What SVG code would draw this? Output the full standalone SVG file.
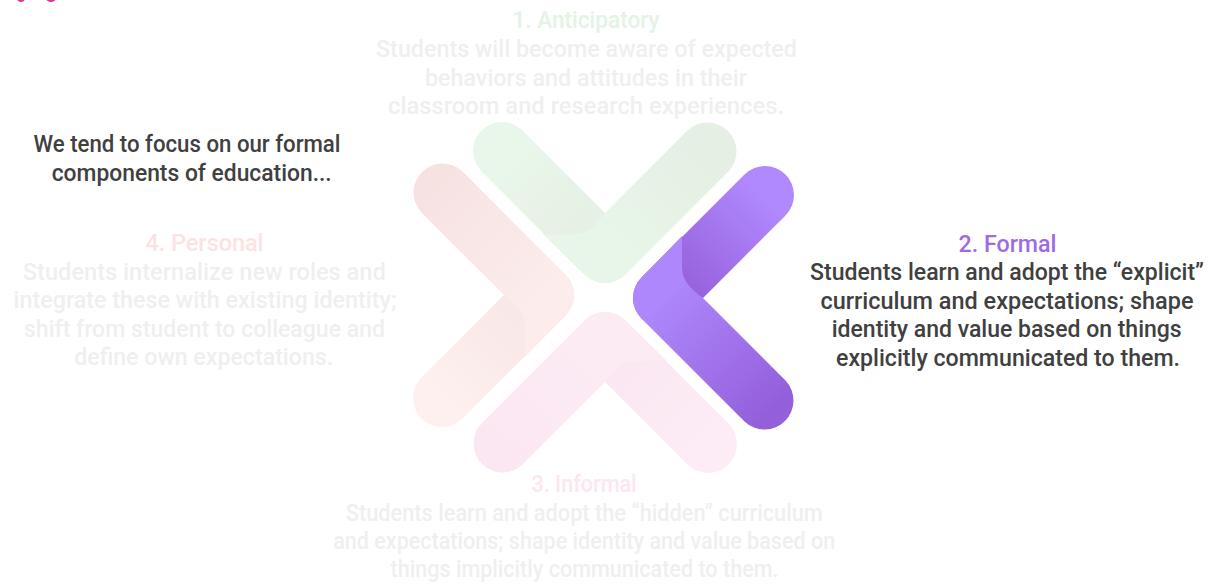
<svg xmlns="http://www.w3.org/2000/svg" width="1215" height="585" viewBox="0 0 1215 585">
<style>
.t{font-family:Roboto,"Liberation Sans",sans-serif;font-size:23px;font-weight:500;text-anchor:middle}
.body{fill:#efefef}
.dark{fill:#404040}
</style>
<defs>
<path id="over" d="M20,-62 L20,-31 C20,-17 29,-9 41,0 L123.5,82.5 A29,29 0 0 1 82.5,123.5 L-20.5,20.5 A29,29 0 0 1 -20.5,-20.5 Z"/>
<linearGradient id="pu" gradientUnits="userSpaceOnUse" x1="103" y1="-103" x2="22" y2="-22"><stop offset="0" stop-color="#b189fe"/><stop offset="1" stop-color="#9764de"/></linearGradient>
<linearGradient id="po" gradientUnits="userSpaceOnUse" x1="0" y1="0" x2="110" y2="110"><stop offset="0" stop-color="#ae87fc"/><stop offset="1" stop-color="#945fdb"/></linearGradient>
<linearGradient id="gu" gradientUnits="userSpaceOnUse" x1="103" y1="-103" x2="22" y2="-22"><stop offset="0" stop-color="#e9f7ea"/><stop offset="1" stop-color="#e6f0e5"/></linearGradient>
<linearGradient id="go" gradientUnits="userSpaceOnUse" x1="0" y1="0" x2="110" y2="110"><stop offset="0" stop-color="#e8f6e9"/><stop offset="1" stop-color="#e5efe4"/></linearGradient>
<linearGradient id="su" gradientUnits="userSpaceOnUse" x1="103" y1="-103" x2="22" y2="-22"><stop offset="0" stop-color="#fdf0ef"/><stop offset="1" stop-color="#f8e8e7"/></linearGradient>
<linearGradient id="so" gradientUnits="userSpaceOnUse" x1="0" y1="0" x2="110" y2="110"><stop offset="0" stop-color="#fcecec"/><stop offset="1" stop-color="#f7e2e2"/></linearGradient>
<linearGradient id="ku" gradientUnits="userSpaceOnUse" x1="103" y1="-103" x2="22" y2="-22"><stop offset="0" stop-color="#fdecf5"/><stop offset="1" stop-color="#fae7f1"/></linearGradient>
<linearGradient id="ko" gradientUnits="userSpaceOnUse" x1="0" y1="0" x2="110" y2="110"><stop offset="0" stop-color="#fdebf4"/><stop offset="1" stop-color="#fae7f2"/></linearGradient>
</defs>
<rect width="1215" height="585" fill="#ffffff"/>
<g id="corner-marks" fill="#e0358c">
<ellipse cx="21" cy="-2" rx="4" ry="4"/>
<ellipse cx="51" cy="-2" rx="5" ry="4"/>
</g>

<g id="stage1-anticipatory">
<g transform="translate(605,254) rotate(-90)">
<line x1="0" y1="0" x2="103" y2="-103" stroke="url(#gu)" stroke-width="58" stroke-linecap="round"/>
<use href="#over" fill="url(#go)"/>
</g>
<text class="t" x="586" y="28" fill="#e4f3e4" textLength="147" lengthAdjust="spacingAndGlyphs">1. Anticipatory</text>
<text class="t body" x="586.5" y="57" textLength="421" lengthAdjust="spacingAndGlyphs">Students will become aware of expected</text>
<text class="t body" x="586" y="85.5" textLength="322" lengthAdjust="spacingAndGlyphs">behaviors and attitudes in their</text>
<text class="t body" x="586" y="114" textLength="396" lengthAdjust="spacingAndGlyphs">classroom and research experiences.</text>
</g>

<g id="stage2-formal">
<g transform="translate(662,298)">
<line x1="0" y1="0" x2="103" y2="-103" stroke="url(#pu)" stroke-width="58" stroke-linecap="round"/>
<use href="#over" fill="url(#po)"/>
</g>
<text class="t" x="1007.5" y="251.5" fill="#9f6ae6" textLength="98" lengthAdjust="spacingAndGlyphs">2. Formal</text>
<text class="t dark" x="1007" y="280" textLength="394" lengthAdjust="spacingAndGlyphs">Students learn and adopt the “explicit”</text>
<text class="t dark" x="1007" y="308.5" textLength="373" lengthAdjust="spacingAndGlyphs">curriculum and expectations; shape</text>
<text class="t dark" x="1006.7" y="337" textLength="350" lengthAdjust="spacingAndGlyphs">identity and value based on things</text>
<text class="t dark" x="1008" y="365.5" textLength="344" lengthAdjust="spacingAndGlyphs">explicitly communicated to them.</text>
</g>

<g id="stage3-informal">
<g transform="translate(605,341) rotate(90)">
<line x1="0" y1="0" x2="103" y2="-103" stroke="url(#ku)" stroke-width="58" stroke-linecap="round"/>
<use href="#over" fill="url(#ko)"/>
</g>
<text class="t" x="584" y="492" fill="#fde6f2" textLength="105" lengthAdjust="spacingAndGlyphs">3. Informal</text>
<text class="t body" x="584.3" y="520.5" textLength="477" lengthAdjust="spacingAndGlyphs">Students learn and adopt the “hidden” curriculum</text>
<text class="t body" x="584.2" y="549" textLength="502" lengthAdjust="spacingAndGlyphs">and expectations; shape identity and value based on</text>
<text class="t body" x="584.5" y="577" textLength="388" lengthAdjust="spacingAndGlyphs">things implicitly communicated to them.</text>
</g>

<g id="stage4-personal">
<g transform="translate(545,295) rotate(180)">
<line x1="0" y1="0" x2="103" y2="-103" stroke="url(#su)" stroke-width="58" stroke-linecap="round"/>
<use href="#over" fill="url(#so)"/>
</g>
<text class="t" x="204.5" y="251" fill="#fbe3e3" textLength="118" lengthAdjust="spacingAndGlyphs">4. Personal</text>
<text class="t body" x="204.3" y="279.5" textLength="363" lengthAdjust="spacingAndGlyphs">Students internalize new roles and</text>
<text class="t body" x="205" y="308" textLength="383" lengthAdjust="spacingAndGlyphs">integrate these with existing identity;</text>
<text class="t body" x="204.5" y="336.5" textLength="361" lengthAdjust="spacingAndGlyphs">shift from student to colleague and</text>
<text class="t body" x="203.7" y="365" textLength="259" lengthAdjust="spacingAndGlyphs">define own expectations.</text>
</g>

<g id="intro-note">
<text class="t dark" x="187" y="152" textLength="307" lengthAdjust="spacingAndGlyphs">We tend to focus on our formal</text>
<text class="t dark" x="191.7" y="180.5" textLength="280" lengthAdjust="spacingAndGlyphs">components of education...</text>
</g>
</svg>
